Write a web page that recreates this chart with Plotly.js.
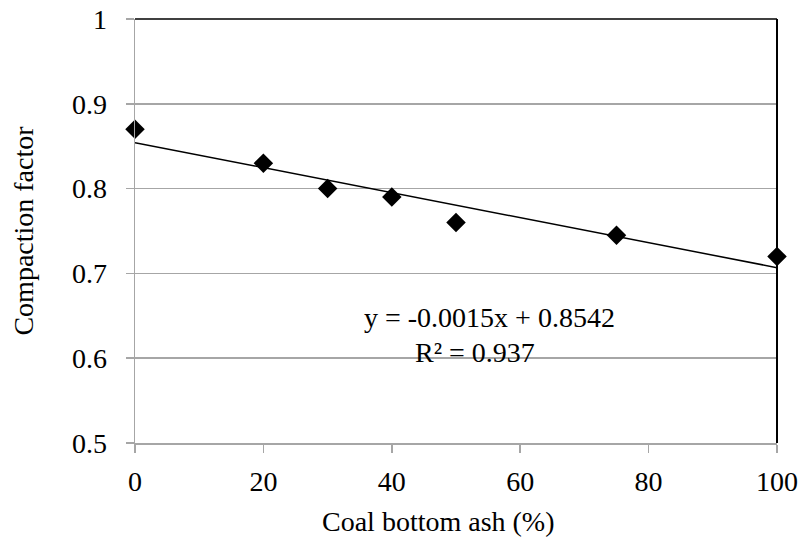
<!DOCTYPE html>
<html>
<head>
<meta charset="utf-8">
<script src="https://cdn.plot.ly/plotly-3.0.1.min.js"></script>
<style>html,body{margin:0;padding:0;background:#fff;}#chart{width:804px;height:545px;}</style>
</head>
<body>
<div id="chart"></div>
<script>
// Data
const ashPercent = [0, 20, 30, 40, 50, 75, 100];
const compactionFactor = [0.87, 0.83, 0.80, 0.79, 0.76, 0.745, 0.72];
const xTicks = [0, 20, 40, 60, 80, 100];
const yTicks = [0.5, 0.6, 0.7, 0.8, 0.9, 1];
const yTickLabels = ['0.5', '0.6', '0.7', '0.8', '0.9', '1'];
const xTitle = 'Coal bottom ash (%)';
const yTitle = 'Compaction factor';

// Linear least-squares trendline (as Excel computes it)
const n = ashPercent.length;
const mx = ashPercent.reduce((a, b) => a + b, 0) / n;
const my = compactionFactor.reduce((a, b) => a + b, 0) / n;
let sxy = 0, sxx = 0, syy = 0;
for (let i = 0; i < n; i++) {
  sxy += (ashPercent[i] - mx) * (compactionFactor[i] - my);
  sxx += (ashPercent[i] - mx) ** 2;
  syy += (compactionFactor[i] - my) ** 2;
}
const slope = sxy / sxx;
const intercept = my - slope * mx;
const r2 = (sxy * sxy) / (sxx * syy);
const trendX = [0, 100];
const trendY = trendX.map(x => intercept + slope * x);

const font = '"Liberation Serif", "Times New Roman", serif';
const grid = '#a6a6a6';
const fs = 28;

const traces = [
  {
    x: trendX, y: trendY, type: 'scatter', mode: 'lines',
    line: {color: '#000000', width: 1.5}, hoverinfo: 'skip', showlegend: false
  },
  {
    x: ashPercent, y: compactionFactor, type: 'scatter', mode: 'markers',
    marker: {symbol: 'diamond', size: 15, color: '#000000'}, showlegend: false, cliponaxis: false
  }
];

const layout = {
  width: 804, height: 545,
  margin: {l: 135, r: 27, t: 19, b: 102},
  paper_bgcolor: '#ffffff', plot_bgcolor: '#ffffff',
  showlegend: false,
  font: {family: font, color: '#000000', size: fs},
  xaxis: {
    range: [0, 100], tickvals: xTicks, ticktext: xTicks.map(String),
    showgrid: false, zeroline: false,
    showline: true, linecolor: grid, linewidth: 1.5,
    ticks: 'outside', ticklen: 8, tickcolor: grid, tickwidth: 1.5,
    tickfont: {family: font, size: fs, color: '#000000'},
    ticklabelstandoff: 5
  },
  yaxis: {
    range: [0.5, 1], tickvals: yTicks, ticktext: yTickLabels,
    showgrid: true, gridcolor: grid, gridwidth: 1.5, zeroline: false,
    showline: true, linecolor: grid, linewidth: 1.5,
    ticks: 'outside', ticklen: 8, tickcolor: grid, tickwidth: 1.5,
    tickfont: {family: font, size: fs, color: '#000000'},
    ticklabelstandoff: 13,
    title: {text: yTitle, font: {family: font, size: fs, color: '#000000'}, standoff: 30}
  },
  shapes: [
    {type: 'line', xref: 'paper', yref: 'paper', x0: 0, x1: 1, y0: 1, y1: 1, line: {color: '#000000', width: 1.5}},
    {type: 'line', xref: 'paper', yref: 'paper', x0: 1, x1: 1, y0: 0, y1: 1, line: {color: '#000000', width: 2}}
  ],
  annotations: [
    {
      xref: 'paper', yref: 'paper', x: 0.472, y: -0.185, yanchor: 'middle', xanchor: 'center',
      text: xTitle, showarrow: false, font: {family: font, size: fs, color: '#000000'}
    },
    {
      xref: 'x', yref: 'y', x: 55.2, y: 0.6475, xanchor: 'center', yanchor: 'middle',
      text: 'y = ' + slope.toFixed(4) + 'x + ' + intercept.toFixed(4),
      showarrow: false, font: {family: font, size: fs, color: '#000000'}
    },
    {
      xref: 'x', yref: 'y', x: 53.0, y: 0.6065, xanchor: 'center', yanchor: 'middle',
      text: 'R² = ' + r2.toFixed(3),
      showarrow: false, font: {family: font, size: fs, color: '#000000'}
    }
  ]
};

Plotly.newPlot('chart', traces, layout, {displayModeBar: false, staticPlot: true});
</script>
</body>
</html>
